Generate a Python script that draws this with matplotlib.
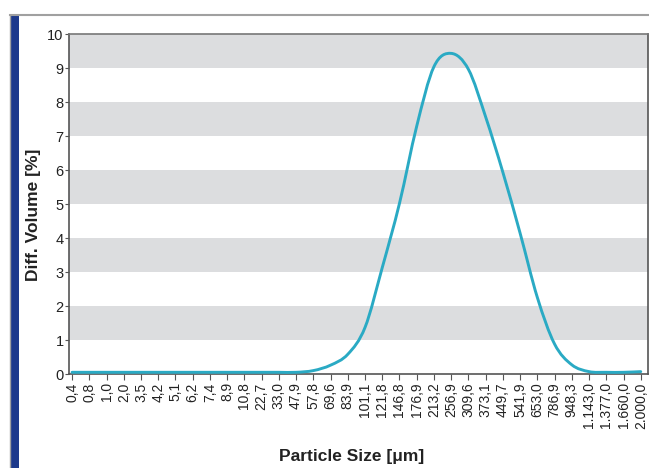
import matplotlib
matplotlib.use("Agg")
import matplotlib.pyplot as plt
from matplotlib.path import Path
from matplotlib.patches import PathPatch, Rectangle
from matplotlib.lines import Line2D

plt.rcParams['font.family'] = ['Liberation Sans', 'DejaVu Sans']

sizes = ["0,4", "0,8", "1,0", "2,0", "3,5", "4,2", "5,1", "6,2", "7,4", "8,9",
         "10,8", "22,7", "33,0", "47,9", "57,8", "69,6", "83,9", "101,1", "121,8",
         "146,8", "176,9", "213,2", "256,9", "309,6", "373,1", "449,7", "541,9",
         "653,0", "786,9", "948,3", "1.143,0", "1.377,0", "1.660,0", "2.000,0"]
diff_volume = [0.05, 0.05, 0.05, 0.05, 0.05, 0.05, 0.05, 0.05, 0.05, 0.05,
               0.05, 0.05, 0.05, 0.05, 0.1, 0.26, 0.58, 1.37, 3.13, 5.02,
               7.29, 9.04, 9.43, 8.96, 7.56, 5.93, 4.14, 2.25, 0.88, 0.27,
               0.07, 0.05, 0.05, 0.07]
y_ticks = list(range(0, 11))

fig = plt.figure(figsize=(6.49, 4.68), dpi=100)
W, H = 649, 468
ax = fig.add_axes([69.3 / W, (H - 374) / H, (648 - 69.3) / W, (374 - 34) / H])

# grey bands
for lo in range(1, 10, 2):
    ax.axhspan(lo, lo + 1, color='#dcdddf', lw=0, zorder=0)

# smooth curve through the data points (Catmull-Rom -> cubic Bezier)
xs = list(range(len(diff_volume)))
ys = diff_volume
verts = [(xs[0], ys[0])]
codes = [Path.MOVETO]
n = len(xs)
for i in range(n - 1):
    p0 = (xs[max(i - 1, 0)], ys[max(i - 1, 0)])
    p1 = (xs[i], ys[i])
    p2 = (xs[i + 1], ys[i + 1])
    p3 = (xs[min(i + 2, n - 1)], ys[min(i + 2, n - 1)])
    c1 = (p1[0] + (p2[0] - p0[0]) / 6, p1[1] + (p2[1] - p0[1]) / 6)
    c2 = (p2[0] - (p3[0] - p1[0]) / 6, p2[1] - (p3[1] - p1[1]) / 6)
    verts += [c1, c2, p2]
    codes += [Path.CURVE4] * 3
ax.add_patch(PathPatch(Path(verts, codes), fill=False, edgecolor='#2aaac4',
                       lw=2.1, capstyle='round', joinstyle='round', zorder=3))

ax.set_xlim(-0.16, 33.42)
ax.set_ylim(0, 10)
ax.set_xticks(xs)
ax.set_xticklabels(sizes, rotation=90, fontsize=10, color='#222222')
ax.set_yticks(y_ticks)
ax.set_yticklabels([str(v) for v in y_ticks], fontsize=10.5, color='#222222')
ax.tick_params(axis='x', length=4, width=0.8, color='#555555', pad=2)
ax.tick_params(axis='y', length=3, width=0.8, color='#555555', pad=1)

for s in ['left', 'bottom', 'right']:
    ax.spines[s].set_color('#555555')
    ax.spines[s].set_linewidth(1.2)
ax.spines['top'].set_color('#777777')
ax.spines['top'].set_linewidth(1.2)

fig.text(33.5 / W, 1 - 215 / H, "Diff. Volume [%]", fontsize=12.5, fontweight='bold',
         color='#222222', ha='center', va='center', rotation=90)
fig.text(352 / W, 1 - 457 / H, "Particle Size [μm]", fontsize=12.5, fontweight='bold',
         color='#222222', ha='center', va='center')

# page frame decorations
fig.add_artist(Line2D([9.5 / W, 1.0], [1 - 15 / H, 1 - 15 / H], color='#a0a0a0', lw=1.5,
                      transform=fig.transFigure))
fig.add_artist(Line2D([10 / W, 10 / W], [0, 1 - 15 / H], color='#a0a0a0', lw=1.0,
                      transform=fig.transFigure))
fig.add_artist(Rectangle((11 / W, 0), 8 / W, 1 - 15.5 / H, color='#1e3a8c',
                         transform=fig.transFigure, lw=0))

fig.savefig("out.png", dpi=100)
